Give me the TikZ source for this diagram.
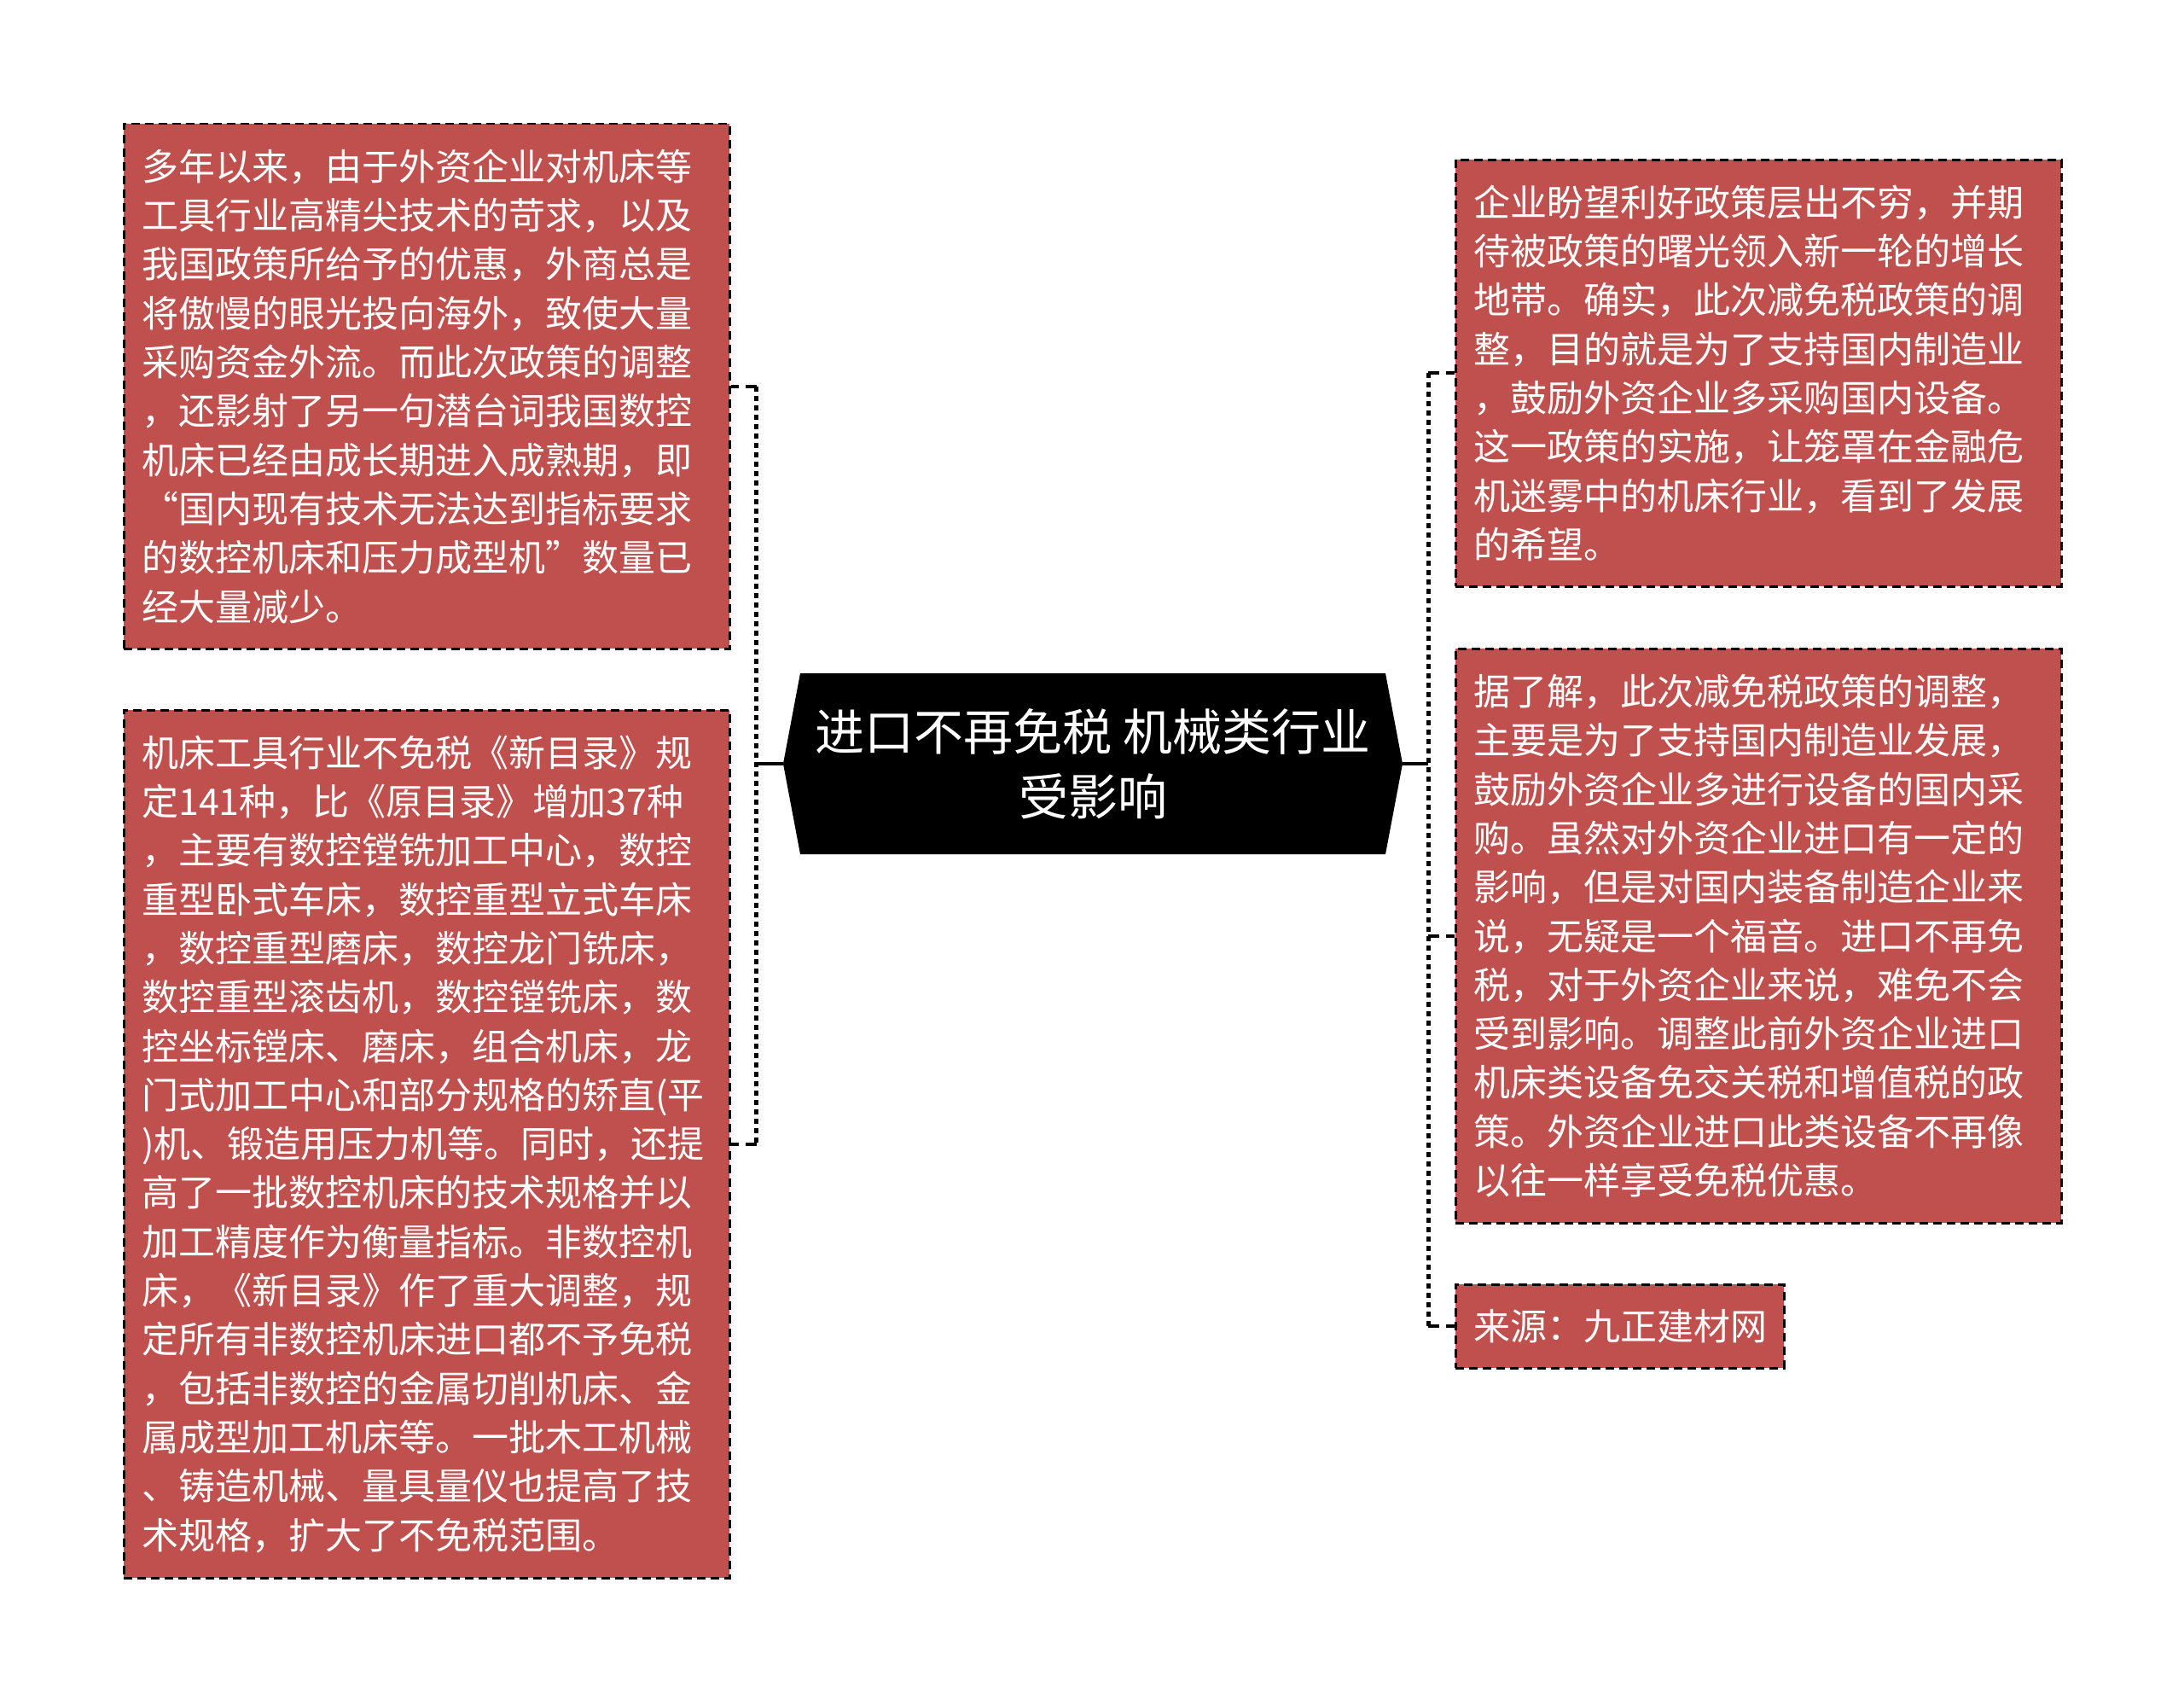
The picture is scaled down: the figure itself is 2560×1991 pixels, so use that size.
\documentclass[tikz,border=0pt]{standalone}
\usepackage{fontspec}
\newfontfamily\cjk{Noto Sans CJK SC}
\definecolor{boxred}{HTML}{C0504D}
\begin{document}
\begin{tikzpicture}[x=1pt,y=-1pt,
  infobox/.style={draw=black, line width=2.5pt, dash pattern=on 10pt off 6pt,
    fill=boxred, text=white, anchor=north west, inner xsep=21pt, inner ysep=0pt,
    align=left, font=\cjk\fontsize{43}{57.3}\selectfont, text width=668pt,
    minimum width=710pt},
  titletext/.style={text=white, align=center, font=\cjk\fontsize{58}{76}\selectfont,
    minimum width=726pt, minimum height=212pt, inner sep=0pt},
  vline/.style={line width=5pt, dash pattern=on 6pt off 5pt},
  tickline/.style={line width=4pt, dash pattern=on 13pt off 8pt},
  stubline/.style={line width=4pt}]
\useasboundingbox (0,0) rectangle (2560,1991);
\fill[white] (0,0) rectangle (2560,1991);

% centre
\fill[black] (918,895) -- (938,789) -- (1624,789) -- (1644,895) -- (1624,1001) -- (938,1001) -- cycle;
\node[titletext] (title) at (1281,895) {进口不再免税 机械类行业\\受影响};

% left boxes
\node[infobox, minimum height=615pt] (lt) at (144,144) {多年以来，由于外资企业对机床等\\工具行业高精尖技术的苛求，以及\\我国政策所给予的优惠，外商总是\\将傲慢的眼光投向海外，致使大量\\采购资金外流。而此次政策的调整\\，还影射了另一句潜台词我国数控\\机床已经由成长期进入成熟期，即\\“国内现有技术无法达到指标要求\\的数控机床和压力成型机”数量已\\经大量减少。};
\node[infobox, minimum height=1017pt] (lb) at (144,831) {机床工具行业不免税《新目录》规\\定141种，比《原目录》增加37种\\，主要有数控镗铣加工中心，数控\\重型卧式车床，数控重型立式车床\\，数控重型磨床，数控龙门铣床，\\数控重型滚齿机，数控镗铣床，数\\控坐标镗床、磨床，组合机床，龙\\门式加工中心和部分规格的矫直(平\\)机、锻造用压力机等。同时，还提\\高了一批数控机床的技术规格并以\\加工精度作为衡量指标。非数控机\\床，《新目录》作了重大调整，规\\定所有非数控机床进口都不予免税\\，包括非数控的金属切削机床、金\\属成型加工机床等。一批木工机械\\、铸造机械、量具量仪也提高了技\\术规格，扩大了不免税范围。};

% right boxes
\node[infobox, minimum height=500pt] (rt) at (1705,186) {企业盼望利好政策层出不穷，并期\\待被政策的曙光领入新一轮的增长\\地带。确实，此次减免税政策的调\\整，目的就是为了支持国内制造业\\，鼓励外资企业多采购国内设备。\\这一政策的实施，让笼罩在金融危\\机迷雾中的机床行业，看到了发展\\的希望。};
\node[infobox, minimum height=673pt] (rm) at (1705,759) {据了解，此次减免税政策的调整，\\主要是为了支持国内制造业发展，\\鼓励外资企业多进行设备的国内采\\购。虽然对外资企业进口有一定的\\影响，但是对国内装备制造企业来\\说，无疑是一个福音。进口不再免\\税，对于外资企业来说，难免不会\\受到影响。调整此前外资企业进口\\机床类设备免交关税和增值税的政\\策。外资企业进口此类设备不再像\\以往一样享受免税优惠。};
\node[infobox, minimum height=98pt, text width=343pt, minimum width=385pt] (rb) at (1705,1504) {来源：九正建材网};

% left connectors
\draw[stubline] (title.west) -- ++(-31,0) coordinate (lj);
\draw[vline] (lj |- lt.east) -- (lj |- lb.east);
\draw[tickline] (lj |- lt.east) -- (lt.east);
\draw[tickline] (lj |- lb.east) -- (lb.east);

% right connectors
\draw[stubline] (title.east) -- ++(30,0) coordinate (rj);
\draw[vline] (rj |- rt.west) -- (rj |- rb.west);
\draw[tickline] (rj |- rt.west) -- (rt.west);
\draw[tickline] (rj |- rm.west) -- (rm.west);
\draw[tickline] (rj |- rb.west) -- (rb.west);
\end{tikzpicture}
\end{document}
